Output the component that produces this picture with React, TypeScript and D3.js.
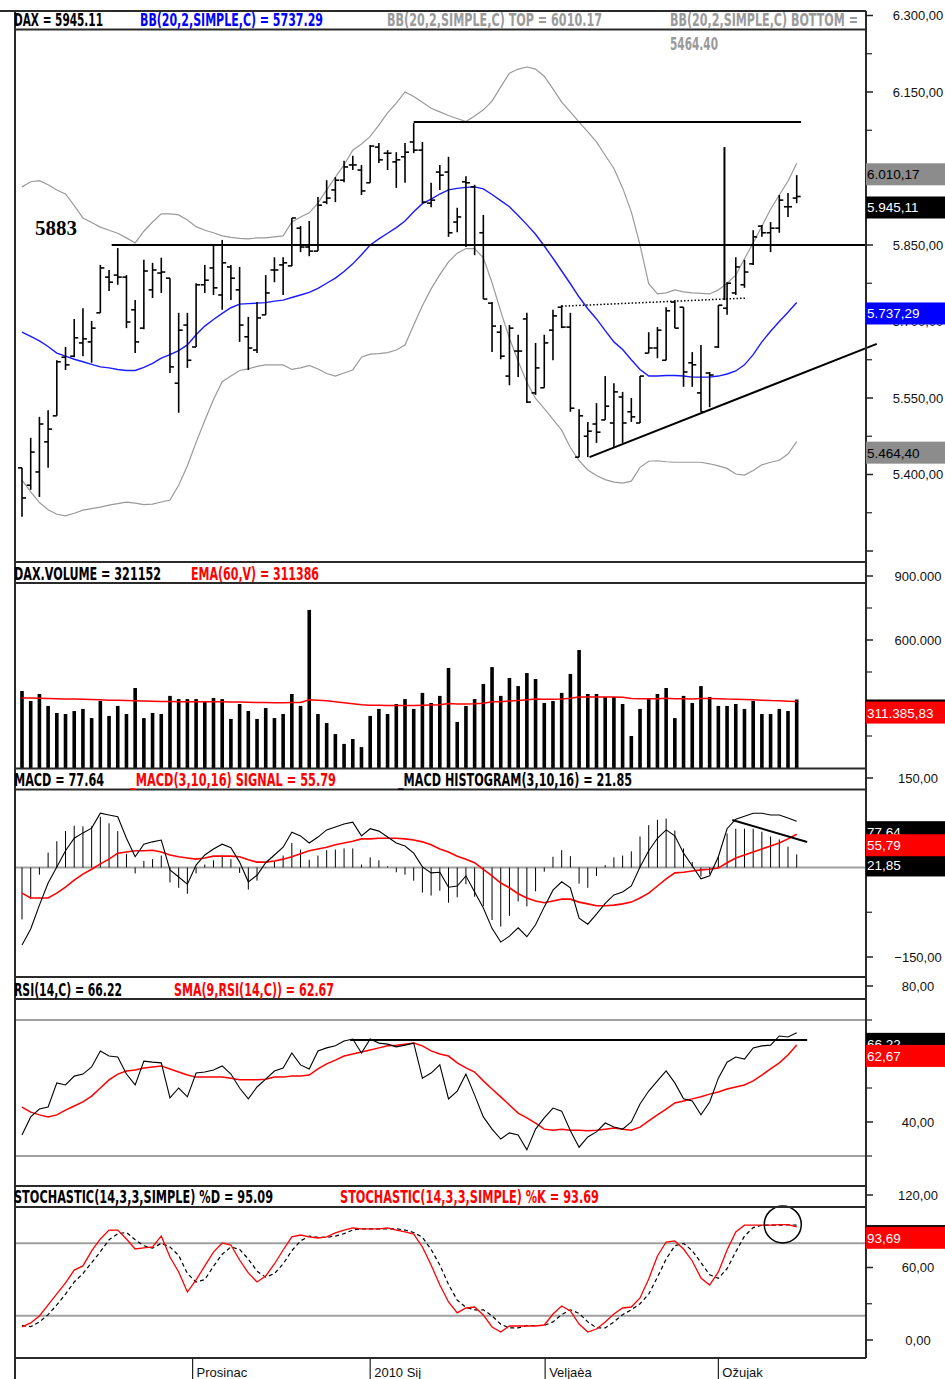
import React from "react";
import * as d3 from "d3";

// ---------- DATA ----------
const opens = [5413,5379,5405,5464,5515,5630,5632,5658,5660,5717, 5787,5791,5787,5723,5687,5762,5795,5785,5579,5693, 5650,5772,5805,5752,5807,5762,5670,5644,5713,5801, 5811,5809,5883,5846,5838,5934,5958,5977,6007,5997, 5972,6042,6030,6013,6023,6052,6036,5932,5993,5993, 5895,5974,5964,5874,5736,5679,5593,5642,5705,5560, 5570,5683,5728,5689,5434,5475,5499,5507,5501,5552, 5523,5501,5638,5648,5624,5738,5728,5619,5560,5599, 5650,5726,5756,5772,5813,5887,5874,5883,5925,5942];
const highs = [5413,5472,5513,5526,5624,5650,5705,5726,5701,5811, 5801,5844,5791,5742,5821,5815,5825,5785,5717,5717, 5775,5811,5850,5860,5811,5807,5709,5738,5791,5826, 5826,5903,5887,5897,5944,5977,5983,6015,6025,6007, 6046,6050,6036,6032,6050,6089,6052,5972,6007,6023, 5923,5985,5968,5909,5738,5693,5693,5674,5717,5658, 5674,5723,5732,5717,5528,5503,5540,5593,5579,5562, 5550,5593,5679,5689,5728,5742,5728,5640,5654,5601, 5732,5777,5826,5821,5879,5889,5895,5948,5952,5987];
const lows = [5317,5370,5356,5413,5515,5605,5630,5632,5619,5717, 5760,5772,5687,5638,5685,5746,5756,5599,5521,5609, 5650,5756,5752,5723,5742,5660,5605,5638,5713,5777, 5752,5809,5836,5828,5838,5930,5934,5973,5997,5948, 5972,6011,5997,5962,5972,6030,5932,5924,5958,5866, 5875,5846,5830,5744,5640,5626,5575,5591,5540,5556, 5570,5624,5687,5523,5434,5434,5462,5507,5454,5462, 5503,5501,5638,5628,5624,5687,5572,5572,5523,5532, 5648,5713,5752,5766,5811,5866,5836,5874,5905,5932];
const closes = [5354,5444,5499,5489,5621,5615,5668,5666,5687,5805, 5777,5787,5699,5660,5799,5801,5797,5611,5683,5624, 5772,5781,5766,5815,5785,5693,5648,5707,5756,5801, 5815,5903,5846,5838,5928,5942,5977,6003,6007,5956, 6044,6017,6030,6017,6032,6036,5934,5938,5987,5874, 5905,5972,5850,5744,5691,5632,5687,5642,5542,5609, 5658,5711,5689,5530,5515,5485,5483,5534,5562,5501, 5513,5593,5648,5683,5721,5687,5601,5615,5523,5595, 5732,5775,5807,5797,5866,5874,5883,5938,5925,5945.11];

const bbUpper = [5964,5974,5976,5968,5958,5950,5927,5903,5894,5885, 5879,5873,5864,5854,5877,5895,5911,5911,5909,5899, 5886,5879,5874,5868,5865,5863,5862,5864,5864,5866, 5868,5895,5905,5913,5932,5958,5983,6007,6036,6048, 6063,6085,6109,6128,6150,6141,6130,6118,6111,6104, 6098,6092,6103,6115,6132,6160,6187,6195,6199,6195, 6181,6156,6130,6111,6091,6072,6052,6026,6000,5962, 5915,5850,5774,5754,5756,5762,5758,5756,5755,5754, 5762,5775,5791,5823,5854,5887,5920,5948,5975,6010.17];
const bbMid = [5679,5671,5662,5651,5638,5632,5626,5621,5616,5611, 5609,5606,5604,5604,5610,5618,5628,5635,5643,5654, 5674,5691,5704,5716,5727,5734,5735,5736,5737,5740, 5742,5747,5752,5757,5765,5775,5785,5798,5813,5831, 5850,5862,5873,5884,5897,5915,5931,5940,5950,5958, 5961,5963,5964,5960,5949,5937,5925,5908,5890,5871, 5848,5824,5799,5774,5748,5725,5705,5682,5660,5645, 5625,5606,5593,5593,5594,5594,5593,5591,5591,5591, 5593,5597,5603,5615,5635,5660,5681,5700,5718,5737.29];
const bbLower = [5389,5366,5345,5331,5322,5319,5324,5330,5333,5336, 5340,5343,5346,5344,5341,5342,5346,5350,5379,5417, 5463,5506,5547,5582,5593,5604,5607,5612,5615,5615, 5615,5606,5609,5614,5607,5598,5593,5599,5605,5630, 5636,5637,5639,5644,5654,5693,5731,5764,5792,5817, 5834,5843,5843,5825,5776,5720,5667,5622,5581,5549, 5529,5508,5487,5453,5427,5409,5398,5390,5385,5383, 5387,5414,5426,5427,5425,5424,5424,5424,5424,5421, 5417,5412,5401,5399,5408,5419,5424,5428,5440,5464.40];

const volume = [361000,314000,347000,291000,258000,253000,267000,277000,234000,314000, 244000,291000,253000,375000,234000,258000,253000,338000,323000,323000, 323000,309000,328000,323000,230000,300000,267000,230000,281000,234000, 253000,347000,291000,741000,253000,211000,159000,113000,136000,98000, 244000,277000,253000,300000,323000,277000,352000,305000,338000,469000, 216000,291000,323000,394000,473000,338000,422000,384000,445000,417000, 305000,314000,352000,441000,553000,347000,347000,333000,333000,300000, 150000,277000,323000,347000,375000,234000,338000,305000,384000,333000, 291000,291000,300000,277000,314000,253000,253000,277000,267000,321152];
const volumeEma = [328000,328000,327000,326000,325000,324000,323000,322000,321000,320000, 318000,317000,316000,315000,314000,313000,312000,312000,311000,311000, 311000,310000,310000,310000,309000,309000,308000,307000,307000,306000, 306000,307000,307000,320000,318000,315000,311000,306000,301000,296000, 294000,294000,293000,293000,293000,293000,294000,295000,296000,302000, 300000,300000,301000,304000,310000,311000,314000,316000,320000,323000, 322000,322000,323000,327000,333000,333000,333000,333000,333000,332000, 326000,325000,325000,325000,327000,325000,325000,324000,326000,326000, 325000,323000,322000,321000,320000,318000,316000,315000,313000,311385.83];

const macdLine = [-130,-103,-63,-26,1,28,49,58,66,91, 88,85,49,18,39,43,46,-4,-16,-28, 4,21,31,39,33,9,-24,-13,8,21, 34,59,53,41,51,63,68,73,76,53, 65,61,51,41,36,24,1,-9,-8,-33, -31,-14,-41,-68,-102,-125,-115,-101,-116,-96, -66,-38,-24,-34,-85,-95,-78,-60,-46,-41, -31,1,28,49,63,53,24,3,-19,-14, 18,65,81,86,91,91,88,88,83,77.64];
const macdSignal = [-43,-51,-51,-51,-43,-33,-21,-11,-3,6, 14,24,26,28,28,29,26,21,18,16, 14,16,19,19,19,18,13,9,9,11, 14,18,23,28,31,34,38,41,44,48, 48,49,49,49,48,46,43,38,31,26, 19,14,8,-3,-14,-26,-34,-44,-51,-56, -59,-56,-53,-53,-58,-61,-64,-64,-63,-61, -58,-51,-43,-31,-19,-9,-8,-6,-4,-3, -1,8,16,21,26,31,36,41,48,55.79];
const macdHist = [-87,-52,-12,25,44,61,70,69,69,85, 74,61,23,-10,11,14,20,-25,-34,-44, -10,5,12,20,14,-9,-37,-22,-1,10, 20,41,30,13,20,29,30,32,32,5, 17,12,2,-8,-12,-22,-42,-47,-39,-59, -50,-28,-49,-65,-88,-99,-81,-57,-65,-40, -7,18,29,19,-27,-34,-14,4,17,20, 27,52,71,80,82,62,32,9,-15,-11, 19,57,65,65,65,60,52,47,35,21.85];

const rsi = [36.2,41.5,43.8,44.4,51.5,50.9,53.5,54.1,56.2,60.9, 59.4,59.1,54.1,50.9,57.9,57.6,57.4,47.1,50,47.4, 54.4,54.7,55.3,56.5,54.1,50,46.8,50.3,52.6,55, 55.9,60.3,56.8,55.6,60.9,61.8,62.4,63.8,64.4,60.3, 64.4,63.2,62.9,62.1,62.6,63.2,52.9,54.4,56.8,46.8, 49.1,54.1,47.9,41.5,37.9,35,36.8,36.2,31.8,37.9, 41.2,44.1,43.2,37.4,32.6,35.6,37.1,39.7,38.5,37.9, 40,45.3,49.1,52.1,55,51.5,46.8,46.2,42.1,45.9, 52.9,57.6,59.1,58.5,61.8,62.4,62.6,65.3,65,66.22];
const rsiSma = [44.4,42.9,42.1,41.5,42.1,43.5,44.7,45.9,47.6,50, 52.4,54.1,55,55.3,55.9,56.2,56.5,55.6,54.7,53.8, 53.2,53.2,53.2,53.2,52.9,52.4,52.4,52.4,52.6,53.2, 53.2,53.5,53.5,53.8,55.6,57.1,58.2,59.4,60,60.6, 61.2,61.8,62.4,62.6,62.9,63.2,62.4,60.9,60,59.4, 57.4,55.9,54.7,52.1,49.7,47.4,45,42.6,41.2,39.7, 37.9,37.6,37.9,37.6,37.6,37.4,37.6,37.9,38.2,37.9, 37.6,38.5,40.3,42.1,43.8,45.6,46.2,46.8,47.4,48.2, 48.8,49.7,50.3,50.9,52.1,53.8,55.6,57.4,59.7,62.67];

const stochK = [10.8,14.1,19.9,29,38.1,47.2,57.9,61.3,73.7,83.6, 91,91,83.6,75.3,76.2,77,86.1,68.7,56.3,39.7, 49.7,61.3,72.8,80.3,78.6,66.2,55.5,48,53,62.9, 74.5,85.3,86.9,85.3,84.4,85.3,88.6,91,92.7,91.9, 91.9,91.9,92.7,91,89.4,87.7,77,62.1,45.5,31.5, 22.4,26.5,27.3,20.7,10.8,6.6,11.6,11.6,11.6,11.6, 12.4,21.5,28.1,24,13.2,6.6,9.1,14.9,21.5,26.5, 27.3,34.8,50.5,69.5,81.1,82,75.3,65.4,51.3,45.5, 56.3,74.5,89.4,95,95,95,95,95.5,95.5,93.69];
const stochD = [12,11,15,21,29,38,48,55,64,73, 83,88,89,83,78,76,80,77,70,55, 48,50,61,71,77,75,67,57,52,55, 63,74,82,86,85,85,86,88,91,92, 92,92,92,92,91,89,85,75,62,46, 33,27,25,25,20,13,10,10,12,12, 12,15,21,25,22,15,10,10,15,21, 25,30,38,52,67,78,80,74,64,54, 51,59,73,86,93,95,95,95,95.3,95.09];

const monthLabels = ["Prosinac", "2010 Sij", "Veljaèa", "Ožujak"];
const monthStartIndex = [19.6, 40, 60.1, 80];

const priceMajorTicks = [5250, 5400, 5550, 5700, 5850, 6000, 6150, 6300];
const priceLabelTicks = [5400, 5550, 5700, 5850, 6000, 6150, 6300];
const priceMinorTicks = [5325, 5475, 5625, 5775, 5925, 6075, 6225];
const volMajorTicks = [300000, 600000, 900000];
const volMinorTicks = [150000, 450000, 750000];
const macdMajorTicks = [-150, 0, 150];
const macdMinorTicks = [-75, 75];
const rsiMajorTicks = [40, 60, 80];
const rsiMinorTicks = [30, 50, 70];
const rsiBands = [70, 30];
const stochMajorTicks = [0, 60, 120];
const stochMinorTicks = [30, 90];
const stochBands = [80, 20];

// annotations (index, value)
const supportLevel = { label: "5883", value: 5850, fromIndex: 10.3 };
const topLevel = { value: 6091, fromIndex: 45, toIndex: 89.5 };
const targetLine = { index: 80.7, from: 6042, to: 5742 };
const necklinePts = [[62, 5730], [83.3, 5746]];
const trendPts = [[65.2, 5434], [98.2, 5656]];
const macdDivergence = [[81.6, 79.6], [90.2, 42.7]];
const rsiLevel = { value: 64.1, fromIndex: 37.7, toIndex: 90.2 };
const stochCircle = { index: 87.4, value: 95.6 };

const N = closes.length;
const HF = "'Liberation Sans Narrow','Arial Narrow','DejaVu Sans Condensed',sans-serif";
const AF = "'Liberation Sans',Arial,sans-serif";

export default function App() {
  const x = d3.scaleLinear().domain([0, 89]).range([22, 796.7]);
  const yP = d3.scaleLinear().domain([5400, 6300]).range([474.5, 15.5]);
  const yV = d3.scaleLinear().domain([0, 900000]).range([768, 576]);
  const yM = d3.scaleLinear().domain([-150, 150]).range([957, 778]);
  const yR = d3.scaleLinear().domain([40, 80]).range([1122, 986]);
  const yS = d3.scaleLinear().domain([0, 120]).range([1340, 1195]);

  const loc = d3.formatLocale({ decimal: ",", thousands: ".", grouping: [3], currency: ["", ""] });
  const f2 = loc.format(",.2f");
  const f0 = loc.format(",.0f");

  const mk = (ys: any, arr: number[]) =>
    d3.line<number>().x((_, i) => x(i)).y((d) => ys(d))(arr) || "";

  const L = 15, R = 866;

  const header = (items: { t: string; x: number; w: number; c: string; y: number }[]) =>
    items.map((it, k) => (
      <text key={k} x={it.x} y={it.y} fill={it.c} fontFamily={HF} fontWeight="bold" fontSize={17}
        textLength={it.w} lengthAdjust="spacingAndGlyphs">{it.t}</text>
    ));

  const axis = (ys: any, majors: number[], minors: number[], labels: number[], fmt: (v: number) => string, key: string) => (
    <g key={key}>
      {majors.map((v) => <line key={"M" + v} x1={R} x2={R + 7} y1={ys(v)} y2={ys(v)} stroke="#222" strokeWidth={1.5} />)}
      {minors.map((v) => <line key={"m" + v} x1={R} x2={R + 6} y1={ys(v)} y2={ys(v)} stroke="#222" strokeWidth={1.2} />)}
      {labels.map((v) => (
        <text key={"t" + v} x={918} y={ys(v) + 4.5} textAnchor="middle" fontFamily={AF} fontSize={13} fill="#111">{fmt(v)}</text>
      ))}
    </g>
  );

  const box = (key: string, v: number, ys: any, fill: string, color: string, txt: string) => (
    <g key={key}>
      <rect x={R} y={ys(v)} width={79} height={22} fill={fill} />
      <text x={R + 1} y={ys(v) + 16} fill={color} fontFamily={AF} fontSize={13.5}>{txt}</text>
    </g>
  );

  const idx = d3.range(N);

  return (
    <svg width={945} height={1379} style={{ position: "absolute", left: 0, top: 0, background: "#fff" }}>
      <defs>
        <clipPath id="cP"><rect x={L} y={30} width={R - L} height={531} /></clipPath>
        <clipPath id="cV"><rect x={L} y={583} width={R - L} height={185} /></clipPath>
        <clipPath id="cM"><rect x={L} y={790} width={R - L} height={187} /></clipPath>
        <clipPath id="cR"><rect x={L} y={999} width={R - L} height={187} /></clipPath>
        <clipPath id="cS"><rect x={L} y={1207} width={R - L} height={151} /></clipPath>
        <clipPath id="cAx"><rect x={R} y={11} width={79} height={1347} /></clipPath>
      </defs>
      <rect x={0} y={0} width={945} height={1379} fill="#fff" />

      {/* ---------- PRICE ---------- */}
      <g clipPath="url(#cP)">
        <path d={mk(yP, bbUpper)} fill="none" stroke="#9a9a9a" strokeWidth={1.2} />
        <path d={mk(yP, bbLower)} fill="none" stroke="#9a9a9a" strokeWidth={1.2} />
        <path d={mk(yP, bbMid)} fill="none" stroke="#1a1aff" strokeWidth={1.4} />
        {idx.map((i) => (
          <g key={i} stroke="#000" strokeWidth={1.6}>
            <line x1={x(i)} x2={x(i)} y1={yP(highs[i])} y2={yP(lows[i])} />
            <line x1={x(i) - 4} x2={x(i)} y1={yP(opens[i])} y2={yP(opens[i])} />
            <line x1={x(i)} x2={x(i) + 4} y1={yP(closes[i])} y2={yP(closes[i])} />
          </g>
        ))}
        <line x1={x(supportLevel.fromIndex)} x2={R} y1={yP(supportLevel.value)} y2={yP(supportLevel.value)} stroke="#000" strokeWidth={2} />
        <line x1={x(topLevel.fromIndex)} x2={x(topLevel.toIndex)} y1={yP(topLevel.value)} y2={yP(topLevel.value)} stroke="#000" strokeWidth={2} />
        <line x1={x(targetLine.index)} x2={x(targetLine.index)} y1={yP(targetLine.from)} y2={yP(targetLine.to)} stroke="#000" strokeWidth={2} />
        <line x1={x(necklinePts[0][0])} x2={x(necklinePts[1][0])} y1={yP(necklinePts[0][1])} y2={yP(necklinePts[1][1])}
          stroke="#000" strokeWidth={1.5} strokeDasharray="1.5,2" />
      </g>
      <line x1={x(trendPts[0][0])} x2={x(trendPts[1][0])} y1={yP(trendPts[0][1])} y2={yP(trendPts[1][1])} stroke="#000" strokeWidth={2} />
      <text x={35} y={235} fontFamily="'Liberation Serif','Times New Roman',serif" fontWeight="bold" fontSize={21} fill="#000">{supportLevel.label}</text>

      {/* ---------- VOLUME ---------- */}
      <g clipPath="url(#cV)">
        {idx.map((i) => (
          <rect key={i} x={x(i) - 1.8} width={3.6} y={yV(volume[i])} height={yV(0) - yV(volume[i])} fill="#000" />
        ))}
        <path d={mk(yV, volumeEma)} fill="none" stroke="#ff0000" strokeWidth={1.5} />
      </g>

      {/* ---------- MACD ---------- */}
      <g clipPath="url(#cM)">
        <line x1={L} x2={R} y1={yM(0)} y2={yM(0)} stroke="#a0a0a0" strokeWidth={2} />
        {idx.map((i) => (
          <line key={i} x1={x(i)} x2={x(i)} y1={yM(0)} y2={yM(macdHist[i])} stroke="#000" strokeWidth={1} />
        ))}
        <path d={mk(yM, macdSignal)} fill="none" stroke="#ff0000" strokeWidth={1.6} />
        <path d={mk(yM, macdLine)} fill="none" stroke="#000" strokeWidth={1.1} />
      </g>
      <line x1={x(macdDivergence[0][0])} x2={x(macdDivergence[1][0])} y1={yM(macdDivergence[0][1])} y2={yM(macdDivergence[1][1])} stroke="#000" strokeWidth={2} />

      {/* ---------- RSI ---------- */}
      <g clipPath="url(#cR)">
        {rsiBands.map((v) => <line key={v} x1={L} x2={R} y1={yR(v)} y2={yR(v)} stroke="#a0a0a0" strokeWidth={2} />)}
        <path d={mk(yR, rsiSma)} fill="none" stroke="#ff0000" strokeWidth={1.5} />
        <path d={mk(yR, rsi)} fill="none" stroke="#000" strokeWidth={1.1} />
      </g>
      <line x1={x(rsiLevel.fromIndex)} x2={x(rsiLevel.toIndex)} y1={yR(rsiLevel.value)} y2={yR(rsiLevel.value)} stroke="#000" strokeWidth={2} />

      {/* ---------- STOCHASTIC ---------- */}
      <g clipPath="url(#cS)">
        {stochBands.map((v) => <line key={v} x1={L} x2={R} y1={yS(v)} y2={yS(v)} stroke="#a0a0a0" strokeWidth={2} />)}
        <path d={mk(yS, stochD)} fill="none" stroke="#000" strokeWidth={1.2} strokeDasharray="4,3" />
        <path d={mk(yS, stochK)} fill="none" stroke="#ff0000" strokeWidth={1.3} />
      </g>
      <circle cx={x(stochCircle.index)} cy={yS(stochCircle.value)} r={18.5} fill="none" stroke="#000" strokeWidth={1.5} />

      {/* ---------- FRAME ---------- */}
      <g stroke="#2a2a2a" strokeWidth={2}>
        <line x1={0} x2={R} y1={11} y2={11} />
        <line x1={L} x2={R} y1={29.5} y2={29.5} />
        <line x1={L} x2={R} y1={562} y2={562} />
        <line x1={L} x2={R} y1={583} y2={583} />
        <line x1={L} x2={R} y1={768.5} y2={768.5} />
        <line x1={L} x2={R} y1={789.5} y2={789.5} />
        <line x1={L} x2={R} y1={977} y2={977} />
        <line x1={L} x2={R} y1={999} y2={999} />
        <line x1={L} x2={R} y1={1186} y2={1186} />
        <line x1={L} x2={R} y1={1207} y2={1207} />
        <line x1={L} x2={R} y1={1358} y2={1358} />
        <line x1={L} x2={L} y1={11} y2={1379} />
        <line x1={R} x2={R} y1={11} y2={1358} />
      </g>

      {/* month ticks */}
      {monthStartIndex.map((mi, k) => (
        <g key={k}>
          <line x1={x(mi)} x2={x(mi)} y1={1358} y2={1379} stroke="#222" strokeWidth={1.2} />
          <text x={x(mi) + 4} y={1377} fontFamily={AF} fontSize={13} fill="#111">{monthLabels[k]}</text>
        </g>
      ))}

      {/* ---------- AXES ---------- */}
      <g clipPath="url(#cAx)">
        {axis(yP, priceMajorTicks, priceMinorTicks, priceLabelTicks, f2, "ap")}
        {axis(yV, volMajorTicks, volMinorTicks, volMajorTicks, f0, "av")}
        {axis(yM, macdMajorTicks, macdMinorTicks, macdMajorTicks, f2, "am")}
        {axis(yR, rsiMajorTicks, rsiMinorTicks, rsiMajorTicks, f2, "ar")}
        {axis(yS, stochMajorTicks, stochMinorTicks, stochMajorTicks, f2, "as")}

        {box("b1", bbUpper[N - 1], yP, "#8c8c8c", "#000", f2(bbUpper[N - 1]))}
        {box("b2", closes[N - 1], yP, "#000", "#fff", f2(closes[N - 1]))}
        {box("b3", bbMid[N - 1], yP, "#0000ff", "#fff", f2(bbMid[N - 1]))}
        {box("b4", bbLower[N - 1], yP, "#8c8c8c", "#000", f2(bbLower[N - 1]))}

        {box("v1", volume[N - 1], yV, "#000", "#fff", f2(volume[N - 1]))}
        {box("v2", volumeEma[N - 1], yV, "#ff0000", "#fff", f2(volumeEma[N - 1]))}

        {box("m1", macdLine[N - 1], yM, "#000", "#fff", f2(macdLine[N - 1]))}
        {box("m3", macdHist[N - 1], yM, "#000", "#fff", f2(macdHist[N - 1]))}
        {box("m2", macdSignal[N - 1], yM, "#ff0000", "#fff", f2(macdSignal[N - 1]))}

        {box("r1", rsi[N - 1], yR, "#000", "#fff", f2(rsi[N - 1]))}
        {box("r2", rsiSma[N - 1], yR, "#ff0000", "#fff", f2(rsiSma[N - 1]))}

        {box("s1", stochD[N - 1], yS, "#000", "#fff", f2(stochD[N - 1]))}
        {box("s2", stochK[N - 1], yS, "#ff0000", "#fff", f2(stochK[N - 1]))}
      </g>

      {/* ---------- HEADERS ---------- */}
      {header([
        { t: "DAX = 5945.11", x: 14, w: 89, c: "#000", y: 26 },
        { t: "BB(20,2,SIMPLE,C) = 5737.29", x: 140, w: 183, c: "#0000ff", y: 26 },
        { t: "BB(20,2,SIMPLE,C) TOP = 6010.17", x: 387, w: 215, c: "#9a9a9a", y: 26 },
        { t: "BB(20,2,SIMPLE,C) BOTTOM =", x: 670, w: 188, c: "#9a9a9a", y: 26 },
        { t: "5464.40", x: 670, w: 48, c: "#9a9a9a", y: 50 },
      ])}
      {header([
        { t: "DAX.VOLUME = 321152", x: 14, w: 147, c: "#000", y: 579.5 },
        { t: "EMA(60,V) = 311386", x: 191, w: 128, c: "#ff0000", y: 579.5 },
      ])}
      {header([
        { t: "MACD = 77.64", x: 14, w: 90, c: "#000", y: 786 },
        { t: "_MACD(3,10,16) SIGNAL = 55.79", x: 130, w: 206, c: "#ff0000", y: 786 },
        { t: "_MACD HISTOGRAM(3,10,16) = 21.85", x: 398, w: 234, c: "#000", y: 786 },
      ])}
      {header([
        { t: "RSI(14,C) = 66.22", x: 14, w: 108, c: "#000", y: 996 },
        { t: "SMA(9,RSI(14,C)) = 62.67", x: 174, w: 160, c: "#ff0000", y: 996 },
      ])}
      {header([
        { t: "STOCHASTIC(14,3,3,SIMPLE) %D = 95.09", x: 14, w: 259, c: "#000", y: 1203 },
        { t: "STOCHASTIC(14,3,3,SIMPLE) %K = 93.69", x: 340, w: 259, c: "#ff0000", y: 1203 },
      ])}
    </svg>
  );
}
